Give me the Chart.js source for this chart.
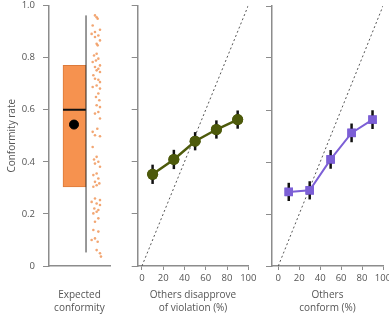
<!DOCTYPE html>
<html><head><meta charset="utf-8">
<script src="https://cdn.jsdelivr.net/npm/chart.js@4.4.0/dist/chart.umd.min.js"></script>
<style>
html,body{margin:0;padding:0;background:#fff;}
#wrap{position:relative;width:389px;height:321px;overflow:hidden;background:#fff;}
canvas{position:absolute;left:0;top:0;}
</style></head><body>
<div id="wrap">
<canvas id="c1" width="389" height="321"></canvas>
<canvas id="c2" width="389" height="321"></canvas>
<canvas id="c3" width="389" height="321"></canvas>
</div>
<script>
// ---- data ----
const yTicks = [0, 0.2, 0.4, 0.6, 0.8, 1.0];
const xTicks = [0, 20, 40, 60, 80, 100];
const xLevels = [10, 30, 50, 70, 90];

// Panel 1: expected conformity (box summary + individual responses)
const boxQ1 = 0.304, boxMedian = 0.60, boxQ3 = 0.770, boxMean = 0.543;
const whiskerLow = 0.052, whiskerHigh = 0.962;
const expectedValues = [0.962,0.955,0.949,0.923,0.907,0.898,0.891,0.885,0.879,0.866,0.853,0.847,0.815,0.808,0.796,0.789,0.783,0.770,0.764,0.757,0.751,0.745,0.732,0.719,0.715,0.706,0.693,0.687,0.681,0.662,0.649,0.636,0.617,0.610,0.591,0.585,0.566,0.527,0.515,0.502,0.498,0.457,0.419,0.409,0.400,0.393,0.381,0.355,0.349,0.336,0.323,0.317,0.310,0.304,0.259,0.253,0.246,0.240,0.234,0.221,0.215,0.208,0.202,0.183,0.170,0.138,0.132,0.106,0.100,0.093,0.061,0.049,0.036];
const expectedJitter = [7.54,7.81,7.98,7.16,8.36,7.54,6.99,8.09,7.54,8.36,7.81,7.98,7.81,7.38,8.09,7.70,7.16,8.36,7.54,8.09,7.81,8.36,7.27,7.54,8.09,8.36,7.81,7.16,8.36,8.09,7.70,8.25,7.81,8.36,8.09,7.54,8.36,7.92,7.16,7.54,8.36,7.16,7.81,7.38,8.09,7.54,8.36,7.81,7.27,8.09,7.54,8.25,7.81,7.27,7.54,8.36,6.99,7.81,8.36,7.43,8.09,7.81,7.27,8.09,7.54,7.27,8.09,7.54,6.99,7.98,7.81,8.36,8.52];

// Panel 2: others disapprove of violation
const disapproveMean = [0.352, 0.409, 0.479, 0.524, 0.562];
const disapproveErr  = [0.037, 0.037, 0.035, 0.035, 0.035];
// Panel 3: others conform
const conformMean = [0.285, 0.291, 0.410, 0.512, 0.563];
const conformErr  = [0.035, 0.035, 0.036, 0.036, 0.036];

// ---- styles ----
Chart.defaults.font.family = "'Open Sans', sans-serif";
Chart.defaults.color = '#555';
const AXIS = '#8c8c8c';
const ORANGE = '#F6924F', ORANGE_EDGE = '#DC7A3A', DOT = 'rgba(240,150,90,0.85)';
const OLIVE = '#4D5A0B', PURPLE = '#7C5FD6';

function yScale(showLabels, width) {
  return {
    type: 'linear', min: 0, max: 1,
    afterBuildTicks: s => { s.ticks = yTicks.map(v => ({value: v})); },
    afterFit: s => { s.width = width; s.paddingTop = 0; s.paddingBottom = 0; },
    ticks: { display: showLabels, padding: 8, font: {size: 9.5}, color: '#555',
      callback: v => v === 0 ? '0' : v.toFixed(1) },
    grid: { drawOnChartArea: false, drawTicks: true, tickLength: 6, color: AXIS, lineWidth: 1 },
    border: { display: true, color: AXIS, width: 1.5 },
    title: showLabels ? { display: true, text: 'Conformity rate', font: {size: 10}, color: '#555', padding: {top: 6, bottom: 0} } : { display: false }
  };
}
function xScaleNum(min, titleLines) {
  return {
    type: 'linear', min: min, max: 100,
    afterBuildTicks: s => { s.ticks = xTicks.map(v => ({value: v})); },
    afterFit: s => { s.height = 55; s.paddingLeft = 0; s.paddingRight = 0; },
    ticks: { padding: 3, font: {size: 9.5}, color: '#555', maxRotation: 0 },
    grid: { drawOnChartArea: false, drawTicks: true, tickLength: 4, color: AXIS },
    border: { display: true, color: AXIS, width: 1.5 },
    title: { display: true, text: titleLines, font: {size: 10, lineHeight: 1.3}, color: '#555', padding: {top: 0, bottom: 6.5} }
  };
}
function errorBarPlugin(means, errs) {
  return {
    id: 'errbars',
    afterDatasetsDraw(chart) {
      const ctx = chart.ctx, xs = chart.scales.x, ys = chart.scales.y;
      ctx.save();
      ctx.strokeStyle = '#111'; ctx.lineWidth = 2.5;
      means.forEach((m, i) => {
        const px = xs.getPixelForValue(xLevels[i]);
        ctx.beginPath();
        ctx.moveTo(px, ys.getPixelForValue(m - errs[i]));
        ctx.lineTo(px, ys.getPixelForValue(m + errs[i]));
        ctx.stroke();
      });
      ctx.restore();
    }
  };
}
function redrawMarkers(idx) {
  return {
    id: 'markersTop',
    afterDraw(chart) {
      const meta = chart.getDatasetMeta(idx);
      chart.ctx.save();
      meta.data.forEach(el => el.draw(chart.ctx, chart.chartArea));
      chart.ctx.restore();
    }
  };
}
const identity = [{x: 0, y: 0}, {x: 100, y: 1}];
const baseOpts = { responsive: false, animation: false, devicePixelRatio: 1,
  plugins: { legend: {display: false}, tooltip: {enabled: false} } };

// ---- Panel 1 ----
new Chart(document.getElementById('c1'), {
  data: { datasets: [
    { type: 'bar', data: [{x: 4.18, y: [boxQ1, boxQ3]}], backgroundColor: ORANGE, borderColor: ORANGE_EDGE, borderWidth: 1, borderSkipped: false, barThickness: 23, order: 5 },
    { type: 'line', data: [{x: 2.3, y: boxMedian}, {x: 6.07, y: boxMedian}], borderColor: '#111', borderWidth: 2, pointRadius: 0, order: 4 },
    { type: 'line', data: [{x: 6.07, y: whiskerLow}, {x: 6.07, y: whiskerHigh}], borderColor: '#333', borderWidth: 1, pointRadius: 0, order: 3 },
    { type: 'scatter', data: [{x: 4.1, y: boxMean}], backgroundColor: '#000', borderColor: '#000', pointRadius: 4.5, order: 2 },
    { type: 'scatter', data: expectedValues.map((v, i) => ({x: expectedJitter[i], y: v})), backgroundColor: DOT, borderWidth: 0, pointRadius: 1.3, order: 1 }
  ]},
  options: Object.assign({}, baseOpts, {
    layout: { padding: {left: 0, right: 279, top: 5, bottom: 0} },
    scales: {
      x: { type: 'linear', min: 0, max: 10, offset: false,
        afterFit: s => { s.height = 55; s.paddingLeft = 0; s.paddingRight = 0; },
        ticks: { display: false }, grid: { display: false },
        border: { display: true, color: AXIS, width: 1.5 },
        title: { display: true, text: ['Expected', 'conformity'], font: {size: 10, lineHeight: 1.3}, color: '#555', padding: {top: 0, bottom: 6.5} } },
      y: yScale(true, 49)
    }
  })
});

// ---- Panel 2 ----
new Chart(document.getElementById('c2'), {
  data: { datasets: [
    { type: 'line', data: identity, borderColor: '#555', borderWidth: 1, borderDash: [2, 2.5], pointRadius: 0 },
    { type: 'line', data: disapproveMean.map((v, i) => ({x: xLevels[i], y: v})), borderColor: OLIVE, borderWidth: 2.5,
      pointStyle: 'circle', pointRadius: 5.5, backgroundColor: OLIVE, pointBorderWidth: 0 }
  ]},
  options: Object.assign({}, baseOpts, {
    layout: { padding: {left: 131.7, right: 140.7, top: 5, bottom: 0} },
    scales: { x: xScaleNum(-4, ['Others disapprove', 'of violation (%)']), y: yScale(false, 6) }
  }),
  plugins: [errorBarPlugin(disapproveMean, disapproveErr), redrawMarkers(1)]
});

// ---- Panel 3 ----
new Chart(document.getElementById('c3'), {
  data: { datasets: [
    { type: 'line', data: identity, borderColor: '#555', borderWidth: 1, borderDash: [2, 2.5], pointRadius: 0 },
    { type: 'line', data: conformMean.map((v, i) => ({x: xLevels[i], y: v})), borderColor: PURPLE, borderWidth: 2,
      pointStyle: 'rect', pointRadius: 6, backgroundColor: PURPLE, pointBorderWidth: 0 }
  ]},
  options: Object.assign({}, baseOpts, {
    layout: { padding: {left: 266, right: 5.7, top: 5, bottom: 0} },
    scales: { x: xScaleNum(-6, ['Others', 'conform (%)']), y: yScale(false, 6) }
  }),
  plugins: [errorBarPlugin(conformMean, conformErr), redrawMarkers(1)]
});
</script>
</body></html>
